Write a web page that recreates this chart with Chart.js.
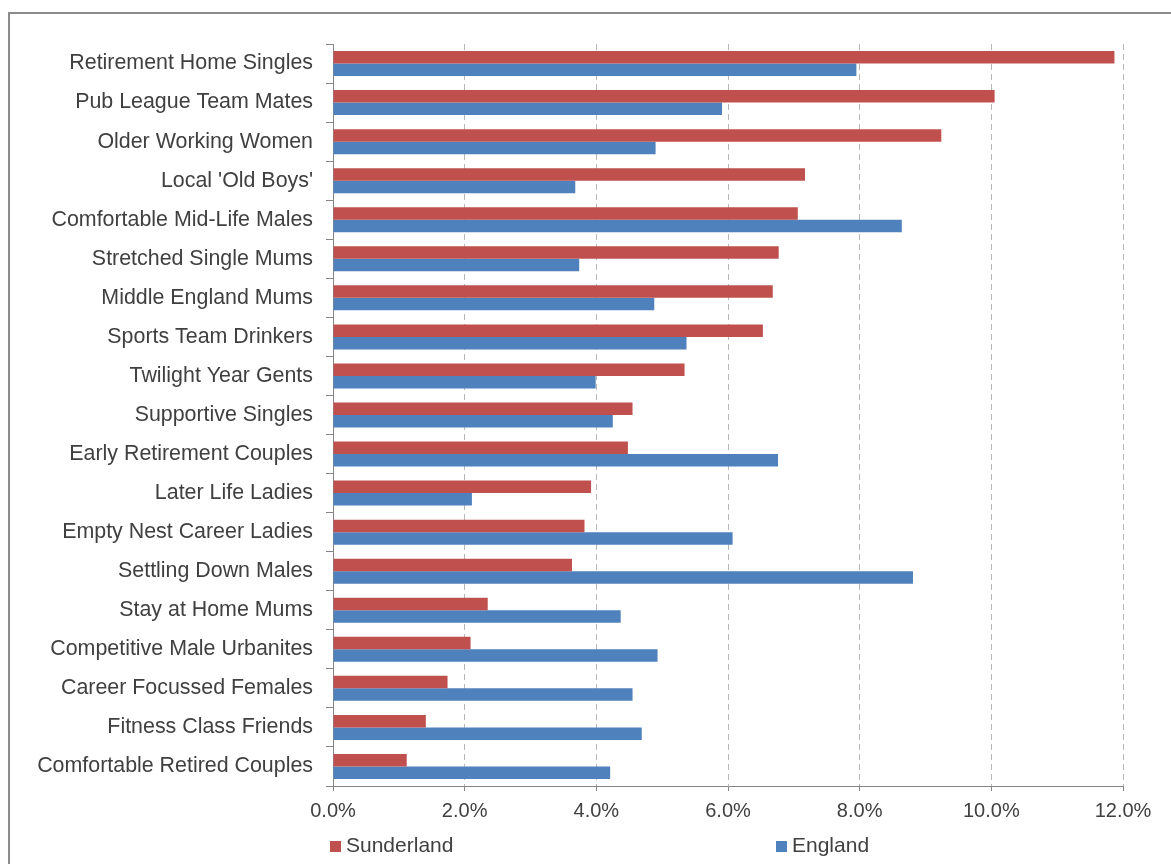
<!DOCTYPE html>
<html>
<head>
<meta charset="utf-8">
<script src="https://cdn.jsdelivr.net/npm/chart.js@4.4.1/dist/chart.umd.min.js"></script>
<style>
    html, body { margin: 0; padding: 0; background: #fff; overflow: hidden; }
</style>
</head>
<body>
<canvas id="segment-chart" width="1171" height="864"></canvas>
<script>
/* ============================== DATA ============================== */
const categories = [
    'Retirement Home Singles', 'Pub League Team Mates', 'Older Working Women',
    "Local 'Old Boys'", 'Comfortable Mid-Life Males', 'Stretched Single Mums',
    'Middle England Mums', 'Sports Team Drinkers', 'Twilight Year Gents',
    'Supportive Singles', 'Early Retirement Couples', 'Later Life Ladies',
    'Empty Nest Career Ladies', 'Settling Down Males', 'Stay at Home Mums',
    'Competitive Male Urbanites', 'Career Focussed Females', 'Fitness Class Friends',
    'Comfortable Retired Couples'
];
const sunderland = [11.87, 10.05, 9.24, 7.17, 7.06, 6.77, 6.68, 6.53, 5.34, 4.55,
                    4.48, 3.92, 3.82, 3.63, 2.35, 2.09, 1.74, 1.41, 1.12];
const england = [7.95, 5.91, 4.90, 3.68, 8.64, 3.74, 4.88, 5.37, 3.99, 4.25,
                 6.76, 2.11, 6.07, 8.81, 4.37, 4.93, 4.55, 4.69, 4.21];
const xMax = 12;
const xStep = 2;

const FONT = '"Liberation Sans", Arial, sans-serif';
const TEXT = '#404040';
const AXIS = '#868686';


/* ============================== PLUGINS ============================== */
const framePlugin = {
    id: 'framePlugin',
    beforeDraw(chart) {
        const { ctx } = chart;
        ctx.save();
        ctx.strokeStyle = '#8c8c8c';
        ctx.lineWidth = 2;
        ctx.strokeRect(9, 13, 1400, 1000);   // outer frame, runs off the page
        ctx.restore();
    }
};

const legendPlugin = {
    id: 'legendPlugin',
    afterDraw(chart) {
        const { ctx, chartArea } = chart;
        const xs = [chartArea.left - 3, chartArea.left + 443];
        ctx.save();
        ctx.font = '21px ' + FONT;
        ctx.textBaseline = 'middle';
        chart.data.datasets.forEach((ds, i) => {
            ctx.fillStyle = ds.backgroundColor;
            ctx.fillRect(xs[i], 841, 11, 11);
            ctx.fillStyle = TEXT;
            ctx.fillText(ds.label, xs[i] + 16, 846);
        });
        ctx.restore();
    }
};


/* ============================== GRAPH ============================== */
function segmentChart() {
    const ctx = document.getElementById('segment-chart').getContext('2d');

    new Chart(ctx, {
        type: 'bar',
        data: {
            labels: categories,
            datasets: [
                { label: 'Sunderland', data: sunderland, backgroundColor: '#C0504D' },
                { label: 'England', data: england, backgroundColor: '#4F81BD' }
            ]
        },
        options: {
            indexAxis: 'y',
            responsive: false,
            animation: false,
            categoryPercentage: 0.64,
            barPercentage: 1.0,
            layout: { padding: { top: 44, right: 48, left: 0, bottom: 0 } },
            plugins: {
                legend: { display: false },
                tooltip: { enabled: false }
            },
            scales: {
                x: {
                    min: 0,
                    max: xMax,
                    afterFit(scale) { scale.height = 78; },
                    ticks: {
                        stepSize: xStep,
                        color: TEXT,
                        font: { family: FONT, size: 20 },
                        padding: 8,
                        maxRotation: 0,
                        callback: v => v.toFixed(1) + '%'
                    },
                    grid: {
                        color: '#b8b8b8',
                        tickColor: AXIS,
                        tickLength: 5,
                        lineWidth: 1
                    },
                    border: { color: AXIS, width: 1, dash: [6, 4] }
                },
                y: {
                    afterFit(scale) { scale.width = 333; },
                    ticks: {
                        color: TEXT,
                        font: { family: FONT, size: 21.4 },
                        padding: 13,
                        autoSkip: false
                    },
                    grid: {
                        drawOnChartArea: false,
                        color: AXIS,
                        tickLength: 7
                    },
                    border: { color: AXIS, width: 1 }
                }
            }
        },
        plugins: [framePlugin, legendPlugin]
    });
}

segmentChart();
</script>
</body>
</html>
